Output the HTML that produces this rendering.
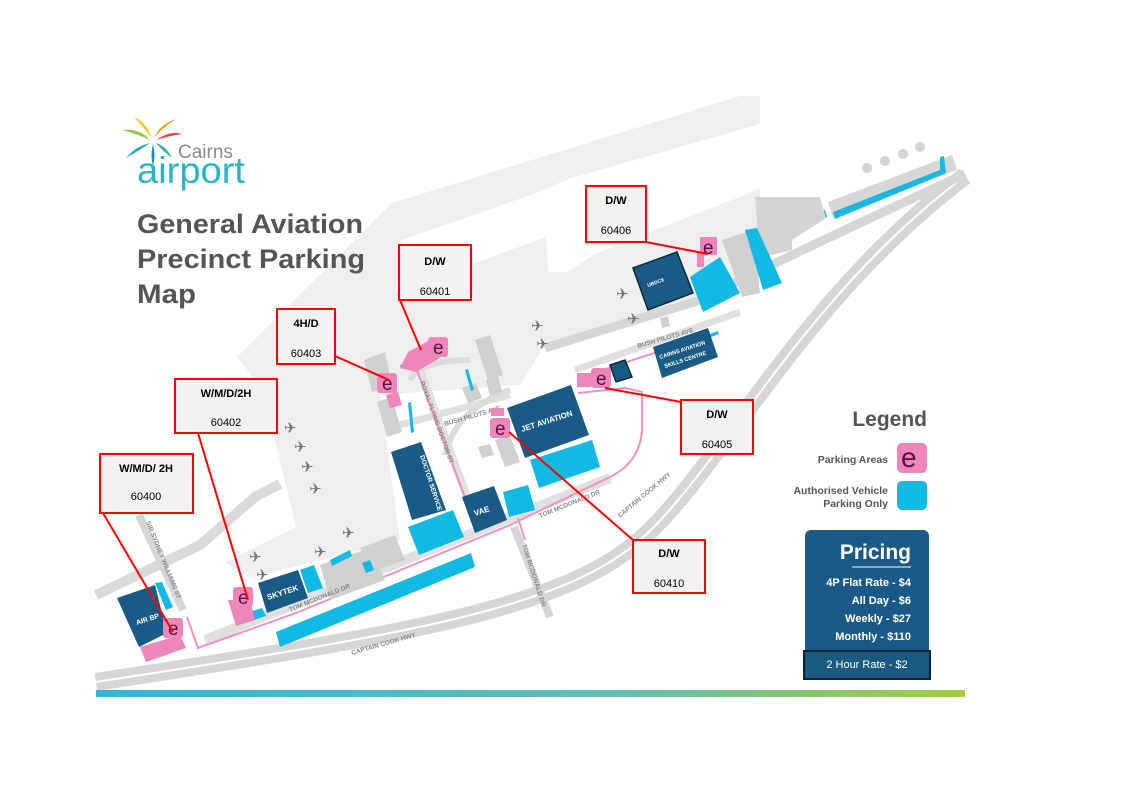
<!DOCTYPE html>
<html><head><meta charset="utf-8"><style>
html,body{margin:0;padding:0;background:#fff}
svg{display:block}
text{font-family:"Liberation Sans",Arial,sans-serif}
</style></head><body>
<svg width="1123" height="794" viewBox="0 0 1123 794" xmlns="http://www.w3.org/2000/svg">
<defs>
<linearGradient id="gb" x1="0" x2="1" y1="0" y2="0"><stop offset="0" stop-color="#2fb6dc"/><stop offset="0.6" stop-color="#5fc0b0"/><stop offset="1" stop-color="#a4cc3a"/></linearGradient>
</defs>
<rect width="1123" height="794" fill="#fff"/>
<!-- airside grey -->
<polygon points="237,357 392,203 740,96 760,96 760,205 792,232 722,300 545,345 520,385 380,395 400,540 250,578 225,562 296,527 263,390" fill="#efefef"/>
<polygon points="402,240 545,190 565,180 760,124 760,188 750,193 597,253 567,272 548,272 546,237 396,292" fill="#fff"/>
<polygon points="828,202 952,155 957,170 833,218" fill="#d6d6d6"/>
<polygon points="833,212 940,170 940,157 944,156 946,173 835,219" fill="#1ab8e0"/>
<polygon points="808,215 825,210 827,217 810,222" fill="#1ab8e0"/>
<polygon points="755,197 820,197 826,218 792,240 792,250 760,258" fill="#d4d4d4"/>
<circle cx="867" cy="168" r="5" fill="#d4d4d4"/><circle cx="885" cy="161" r="5" fill="#d4d4d4"/><circle cx="903" cy="154" r="5" fill="#d4d4d4"/><circle cx="920" cy="147" r="5" fill="#d4d4d4"/>
<!-- roads -->
<g fill="none" stroke-linecap="butt">
<path d="M96,682 C400,635 560,610 640,540 S800,300 965,176" stroke="#d6d6d6" stroke-width="18"/>
<path d="M96,682 C400,635 560,610 640,540 S800,300 965,176" stroke="#fff" stroke-width="2"/>
<path d="M545,348 L700,300 Q790,255 965,174" stroke="#d6d6d6" stroke-width="9"/>
<path d="M96,595 L200,545 L255,497 L280,484" stroke="#dadada" stroke-width="10"/>
<path d="M139,515 L183,610" stroke="#d6d6d6" stroke-width="8"/>
<path d="M514,527 L550,617" stroke="#d6d6d6" stroke-width="8"/>
<path d="M205,640 L610,478" stroke="#e0e0e0" stroke-width="10"/>
<path d="M418,365 L470,505" stroke="#e0e0e0" stroke-width="8"/>
<path d="M400,425 L510,395" stroke="#e0e0e0" stroke-width="7"/>
<path d="M575,370 L740,312" stroke="#e0e0e0" stroke-width="7"/>
<path d="M445,455 Q455,410 510,390" stroke="#dcdcdc" stroke-width="6"/>
<path d="M410,380 Q420,360 470,360" stroke="#dcdcdc" stroke-width="6"/>
</g>
<!-- pink route -->
<g fill="none" stroke="#ef92bd" stroke-width="2">
<path d="M187,617 L198,648 L296,613 L510,525 L610,477 Q640,462 642,430 L642,392 L625,388 L578,393"/>
<path d="M415,365 L468,505"/>
<path d="M578,378 L700,338"/>
<path d="M518,518 L525,540"/>
</g>
<!-- medium grey buildings -->
<g fill="#d0d0d0">
<polygon points="364,360 385,352 392,385 372,392"/>
<polygon points="377,402 392,397 402,432 387,437"/>
<polygon points="475,340 490,335 503,375 488,380"/>
<polygon points="462,388 476,383 482,398 468,403"/>
<polygon points="486,380 498,376 502,392 490,396"/>
<polygon points="495,440 510,435 520,462 505,467"/>
<polygon points="478,447 490,444 494,455 482,458"/>
<polygon points="320,565 370,548 385,580 330,600"/>
<polygon points="360,548 395,535 405,560 372,572"/>
<polygon points="722,240 753,230 760,293 742,297"/>
<polygon points="660,318 668,316 670,326 662,328"/>
</g>
<!-- cyan -->
<g fill="#12b9e3">
<polygon points="690,277 720,257 740,293 703,312"/>
<polygon points="745,230 757,228 782,283 763,290"/>
<polygon points="530,460 592,440 600,467 539,488"/>
<polygon points="408,527 453,510 464,537 419,555"/>
<polygon points="503,492 528,485 535,510 509,517"/>
<polygon points="300,570 314,565 323,588 308,593"/>
<polygon points="155,583 162,582 173,607 166,610"/>
<polygon points="276,632 471,553 475,567 280,647"/>
<polygon points="362,563 370,560 374,570 366,573"/>
<polygon points="330,560 350,550 352,556 332,566"/>
<polygon points="400,365 412,362 413,366 401,369"/>
<polygon points="465,370 468,369 474,390 471,391"/>
<polygon points="408,403 411,402 414,432 411,433"/>
<polygon points="710,334 718,331 719,334 711,337"/>
<polygon points="250,612 262,608 266,616 254,620"/>
</g>
<!-- dark blue buildings -->
<g fill="#195b85">
<polygon points="633,268 677,252 693,293 648,310" stroke="#0d2a3d" stroke-width="1.5"/>
<polygon points="507,408 571,385 589,435 525,458"/>
<polygon points="391,452 421,442 446,510 412,520"/>
<polygon points="462,497 494,486 507,520 475,533"/>
<polygon points="258,583 298,570 308,598 267,613"/>
<polygon points="117,598 155,585 167,633 139,647"/>
<polygon points="653,347 708,328 718,357 662,378"/>
<polygon points="610,365 625,360 632,377 616,382" stroke="#0d2a3d" stroke-width="1.5"/>
</g>
<!-- building labels -->
<g fill="#fff" font-weight="bold" font-size="7">
<text transform="translate(522,432) rotate(-18)" font-size="8">JET AVIATION</text>
<text transform="translate(428,452) rotate(72)" font-size="6.5">ROYAL FLYING</text>
<text transform="translate(420,456) rotate(72)" font-size="6.5">DOCTOR SERVICE</text>
<text transform="translate(475,516) rotate(-18)" font-size="8">VAE</text>
<text transform="translate(268,600) rotate(-18)" font-size="8">SKYTEK</text>
<text transform="translate(137,625) rotate(-18)" font-size="7">AIR BP</text>
<text transform="translate(660,359) rotate(-18)" font-size="5.5">CAIRNS AVIATION</text>
<text transform="translate(665,368) rotate(-18)" font-size="5.5">SKILLS CENTRE</text>
<text transform="translate(648,287) rotate(-20)" font-size="5">UBDC9</text>
</g>
<g fill="#888" font-weight="bold" font-size="6.5">
<text transform="translate(445,426) rotate(-16)">BUSH PILOTS AVE</text>
<text transform="translate(638,348) rotate(-16)">BUSH PILOTS AVE</text>
<text transform="translate(420,382) rotate(70)">ROYAL FLYING DOCTOR ST</text>
<text transform="translate(290,612) rotate(-22)">TOM MCDONALD DR</text>
<text transform="translate(540,518) rotate(-22)">TOM MCDONALD DR</text>
<text transform="translate(522,545) rotate(72)">TOM MCDONALD DR</text>
<text transform="translate(352,655) rotate(-16)">CAPTAIN COOK HWY</text>
<text transform="translate(620,518) rotate(-40)">CAPTAIN COOK HWY</text>
<text transform="translate(146,522) rotate(68)">SIR SYDNEY WILLIAMS ST</text>
</g>
<!-- planes -->
<g fill="#777" font-size="15">
<text x="284" y="433">✈</text><text x="294" y="452">✈</text><text x="301" y="472">✈</text><text x="309" y="494">✈</text>
<text x="249" y="562">✈</text><text x="256" y="580">✈</text><text x="314" y="557">✈</text><text x="342" y="538">✈</text>
<text x="616" y="299">✈</text><text x="627" y="324">✈</text><text x="531" y="331">✈</text><text x="536" y="349">✈</text>
</g>
<!-- pink parking -->
<g fill="#ee86ba">
<rect x="700" y="237" width="17" height="18"/><rect x="697" y="253" width="7" height="14"/>
<polygon points="408,352 430,340 440,358 416,372 400,368"/><rect x="428" y="337" width="20" height="20" rx="3"/>
<rect x="377" y="373" width="20" height="20" rx="3"/><polygon points="386,395 398,392 402,405 390,408"/>
<rect x="233" y="587" width="20" height="20" rx="3"/><polygon points="228,600 250,600 255,620 236,626"/>
<rect x="163" y="618" width="20" height="20" rx="3"/><polygon points="140,647 180,635 186,648 146,662"/>
<rect x="490" y="418" width="20" height="20" rx="3"/><rect x="491" y="408" width="13" height="8"/>
<rect x="591" y="368" width="20" height="20" rx="3"/><rect x="577" y="373" width="14" height="14"/>
</g>
<g fill="#5a1145" font-size="19">
<text x="703" y="254">e</text><text x="433" y="354">e</text><text x="382" y="390">e</text>
<text x="238" y="604">e</text><text x="168" y="635">e</text><text x="495" y="435">e</text><text x="596" y="385">e</text>
</g>
<!-- callout lines -->
<g stroke="#f00" stroke-width="2" fill="none">
<line x1="646" y1="242" x2="708" y2="254"/>
<line x1="400" y1="300" x2="421" y2="350"/>
<line x1="335" y1="356" x2="389" y2="380"/>
<line x1="198" y1="433" x2="248" y2="600"/>
<line x1="103" y1="513" x2="173" y2="632"/>
<line x1="509" y1="432" x2="633" y2="540"/>
<line x1="605" y1="388" x2="681" y2="402"/>
</g>
<!-- callout boxes -->
<g fill="#f2f2f2" stroke="#f00" stroke-width="2">
<rect x="586" y="186" width="60" height="56"/>
<rect x="399" y="245" width="72" height="55"/>
<rect x="277" y="309" width="58" height="55"/>
<rect x="175" y="379" width="102" height="54"/>
<rect x="100" y="454" width="93" height="59"/>
<rect x="681" y="400" width="72" height="54"/>
<rect x="633" y="540" width="72" height="53"/>
</g>
<g fill="#000" font-size="11" text-anchor="middle">
<text x="616" y="204" font-weight="bold">D/W</text><text x="616" y="234">60406</text>
<text x="435" y="265" font-weight="bold">D/W</text><text x="435" y="295">60401</text>
<text x="306" y="327" font-weight="bold">4H/D</text><text x="306" y="357">60403</text>
<text x="226" y="397" font-weight="bold">W/M/D/2H</text><text x="226" y="426">60402</text>
<text x="146" y="472" font-weight="bold">W/M/D/ 2H</text><text x="146" y="500">60400</text>
<text x="717" y="418" font-weight="bold">D/W</text><text x="717" y="448">60405</text>
<text x="669" y="557" font-weight="bold">D/W</text><text x="669" y="587">60410</text>
</g>
<!-- logo -->
<g>
<path d="M150,140 Q140,128 122,130 Q138,134 150,140Z" fill="#8cc63f"/>
<path d="M152,138 Q146,122 134,117 Q144,128 152,138Z" fill="#f6c22b"/>
<path d="M154,138 Q160,124 176,119 Q162,128 154,138Z" fill="#f39a2b"/>
<path d="M156,140 Q170,130 182,134 Q168,136 156,140Z" fill="#e5483f"/>
<path d="M150,143 Q136,146 126,158 Q140,150 150,143Z" fill="#2aa6b8"/>
<path d="M153,144 Q150,155 153,166 Q156,155 153,144Z" fill="#1f8fb0"/>
<path d="M156,143 Q166,146 172,158 Q162,150 156,143Z" fill="#2fb0a0"/>
<text x="178" y="158" font-size="19" fill="#8a8a8a">Cairns</text>
<text x="137" y="183" font-size="37" fill="#2ab4c8" textLength="108" lengthAdjust="spacingAndGlyphs">airport</text>
</g>
<g fill="#555" font-weight="bold" font-size="27">
<text x="137" y="233" textLength="226" lengthAdjust="spacingAndGlyphs">General Aviation</text>
<text x="137" y="268" textLength="228" lengthAdjust="spacingAndGlyphs">Precinct Parking</text>
<text x="137" y="303" textLength="59" lengthAdjust="spacingAndGlyphs">Map</text>
</g>
<!-- legend -->
<text x="927" y="426" font-size="21" font-weight="bold" fill="#555" text-anchor="end">Legend</text>
<text x="888" y="463" font-size="10.5" font-weight="bold" fill="#555" text-anchor="end">Parking Areas</text>
<text x="888" y="494" font-size="10.5" font-weight="bold" fill="#555" text-anchor="end">Authorised Vehicle</text>
<text x="888" y="507" font-size="10.5" font-weight="bold" fill="#555" text-anchor="end">Parking Only</text>
<rect x="897" y="443" width="30" height="30" rx="5" fill="#ee86ba"/>
<text x="901" y="467" font-size="28" fill="#5a1145">e</text>
<rect x="897" y="481" width="30" height="29" rx="5" fill="#12b9e3"/>
<!-- pricing -->
<rect x="805" y="530" width="124" height="150" rx="6" fill="#1b5a86"/>
<text x="911" y="559" font-size="21" font-weight="bold" fill="#fff" text-anchor="end">Pricing</text>
<line x1="852" y1="567" x2="911" y2="567" stroke="#fff" stroke-width="1"/>
<g fill="#fff" font-size="11" font-weight="bold" text-anchor="end">
<text x="911" y="586">4P Flat Rate - $4</text>
<text x="911" y="604">All Day - $6</text>
<text x="911" y="622">Weekly - $27</text>
<text x="911" y="640">Monthly - $110</text>
</g>
<rect x="804" y="651" width="126" height="28" fill="#1b5a7e" stroke="#0c2230" stroke-width="2"/>
<text x="867" y="668" font-size="11" fill="#fff" text-anchor="middle">2 Hour Rate - $2</text>
<!-- bottom bar -->
<rect x="96" y="690" width="869" height="7" fill="url(#gb)"/>
</svg>
</body></html>
